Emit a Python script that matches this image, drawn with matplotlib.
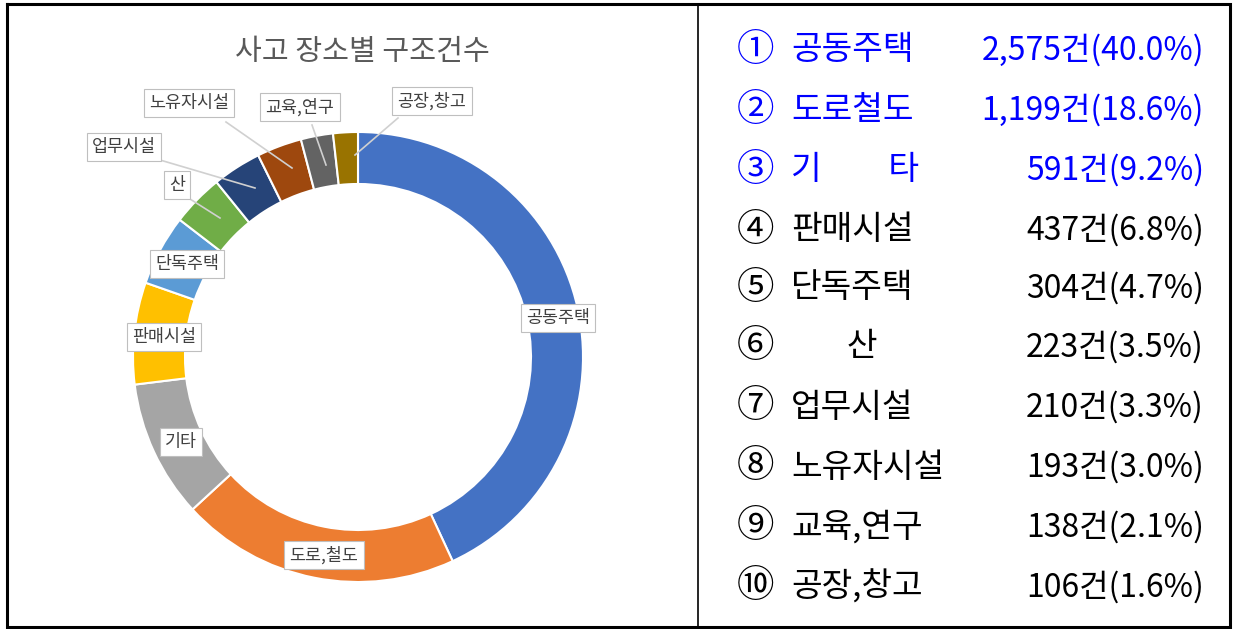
import matplotlib
matplotlib.use("Agg")
import matplotlib.pyplot as plt

plt.rcParams['font.family'] = ['Noto Sans CJK KR', 'DejaVu Sans']

# data
categories = ['공동주택', '도로,철도', '기타', '판매시설', '단독주택', '산',
              '업무시설', '노유자시설', '교육,연구', '공장,창고']
counts = [2575, 1199, 591, 437, 304, 223, 210, 193, 138, 106]
shares = [40.0, 18.6, 9.2, 6.8, 4.7, 3.5, 3.3, 3.0, 2.1, 1.6]
table_names = ['공동주택', '도로철도', '기\u3000\u3000타', '판매시설', '단독주택',
               '\u3000   산', '업무시설', '노유자시설', '교육,연구', '공장,창고']
circled = ['①', '②', '③', '④', '⑤', '⑥', '⑦', '⑧', '⑨', '⑩']
colors = ['#4472C4', '#ED7D31', '#A5A5A5', '#FFC000', '#5B9BD5',
          '#70AD47', '#264478', '#9E480E', '#636363', '#997300']

W, H = 1233, 629
fig = plt.figure(figsize=(W / 100, H / 100), dpi=100)
ax = fig.add_axes([0, 0, 1, 1])

cx, cy, r = 358, H - 357, 225
ax.pie(counts, colors=colors, startangle=90, counterclock=False,
       radius=r, center=(cx, cy),
       wedgeprops=dict(width=52, edgecolor='white', linewidth=1.5))
ax.set_xlim(0, W)
ax.set_ylim(0, H)
ax.set_aspect('auto')
ax.axis('off')

# title
ax.text(362, H - 52, '사고 장소별 구조건수', ha='center', va='center',
        fontsize=21, color='#595959')

# data labels (pixel positions, y from top)
label_pos = [(558, 318), (324, 555), (181, 442), (164, 337), (187, 264),
             (177, 185), (124, 147), (189, 103), (300, 107), (432, 101)]
leaders = {7: [(226, 122), (292, 168)],
           6: [(160, 160), (255, 188)],
           5: [(190, 199), (220, 218)],
           8: [(312, 125), (326, 165)],
           9: [(398, 118), (355, 155)]}
for i, name in enumerate(categories):
    if i in leaders:
        (x0, y0), (x1, y1) = leaders[i]
        ax.plot([x0, x1], [H - y0, H - y1], color='#D0D0D0', lw=1.2, zorder=3)
    x, y = label_pos[i]
    ax.text(x, H - y, name, ha='center', va='center', fontsize=12.5,
            color='#404040', zorder=5,
            bbox=dict(boxstyle='square,pad=0.3', fc='white', ec='#BFBFBF', lw=0.8))

# right table
row_y = [50, 110, 170, 230, 288, 347, 407, 467, 527, 587]
for i in range(len(counts)):
    col = '#0000FF' if i < 3 else 'black'
    y = H - row_y[i]
    ax.text(755, y, circled[i], ha='center', va='center', fontsize=27, color=col)
    ax.text(791, y, table_names[i], ha='left', va='center', fontsize=24, color=col)
    ax.text(1204, y, f'{counts[i]:,}건({shares[i]:.1f}%)', ha='right',
            va='center', fontsize=23, color=col)

# frame and divider
ax.plot([6.5, 1229.5, 1229.5, 6.5, 6.5], [H - 3.5, H - 3.5, H - 627, H - 627, H - 3.5],
        color='black', lw=2.2, solid_joinstyle='miter', clip_on=False)
ax.plot([698, 698], [H - 3.5, H - 627], color='black', lw=1.2)

fig.savefig('out.png', dpi=100)
